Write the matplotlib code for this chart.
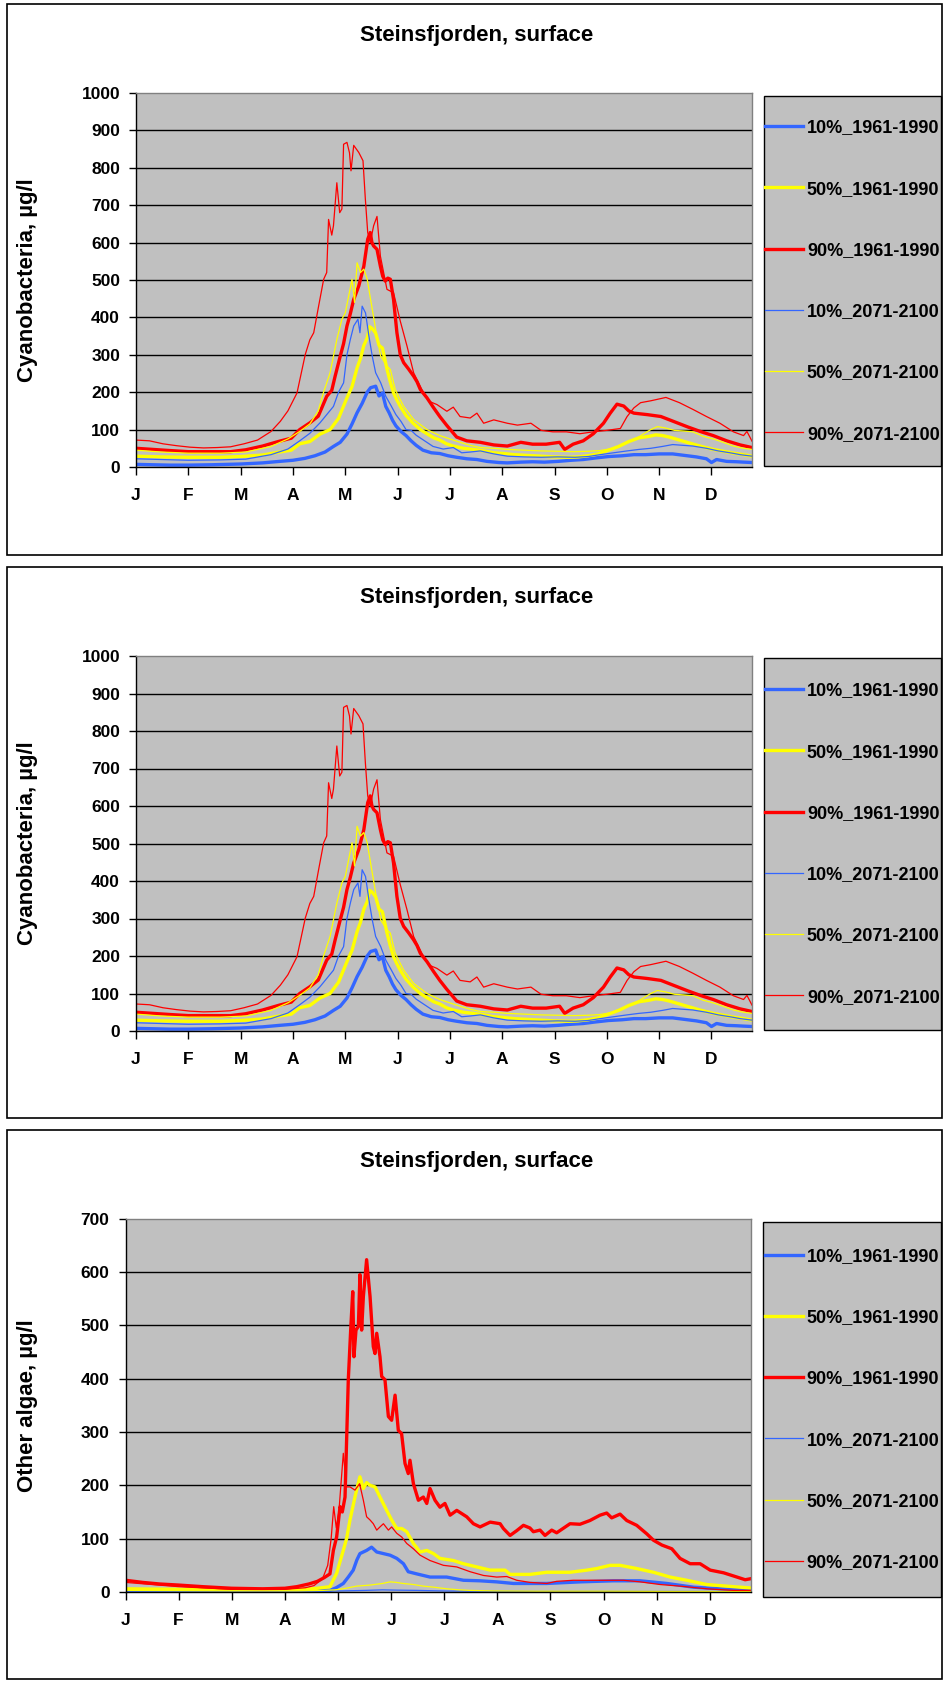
import numpy as np
import matplotlib
matplotlib.use("Agg")
import matplotlib.pyplot as plt
from matplotlib.patches import Rectangle

plt.rcParams['font.family'] = ['Liberation Sans', 'DejaVu Sans']
plt.rcParams['font.weight'] = 'bold'

# ── data (day of year, concentration) ─────────────────────────────────────
MONTHS = ['J', 'F', 'M', 'A', 'M', 'J', 'J', 'A', 'S', 'O', 'N', 'D']
LABELS = ['10%_1961-1990', '50%_1961-1990', '90%_1961-1990',
          '10%_2071-2100', '50%_2071-2100', '90%_2071-2100']

# Cyanobacteria (panels 1 and 2 show the same data)
CY_B10_HIST_D = [0, 10, 20, 31, 45, 62, 75, 85, 93, 100, 106, 112, 117, 121, 125, 128, 131, 134, 137, 139,
                 142, 144, 146, 148, 150, 152, 154, 157, 160, 163, 166, 170, 175, 180, 185, 190, 196, 202, 208, 215,
                 220, 228, 235, 242, 250, 258, 265, 272, 280, 288, 295, 302, 310, 318, 325, 332, 338, 341, 344, 350,
                 356, 360, 365]
CY_B10_HIST = [7, 6, 5, 5, 6, 8, 11, 15, 18, 23, 30, 40, 55, 66, 88, 115, 145, 170, 200, 212,
               216, 190, 198, 162, 145, 125, 110, 95, 84, 70, 58, 45, 38, 36, 30, 26, 22, 20, 15, 12,
               11, 13, 14, 13, 15, 18, 20, 24, 28, 30, 33, 33, 35, 35, 31, 27, 22, 12, 20, 15,
               14, 13, 12]

CY_Y50_HIST_D = [0, 15, 31, 50, 62, 75, 85, 92, 97, 103, 109, 115, 120, 125, 128, 131, 133, 135, 137, 138.5,
                 140, 142, 144, 146, 148.7, 150.5, 152.6, 154.5, 156.6, 160, 164, 168.5, 172, 176.4, 180, 184, 188,
                 194, 200, 206, 212, 218, 224, 232, 240, 248, 256, 262, 268, 274, 280, 286, 292, 298, 304, 308,
                 312, 316, 322, 328, 335, 342, 348, 354, 360, 365]
CY_Y50_HIST = [29, 27, 26, 26, 28, 32, 40, 45, 62, 68, 88, 100, 130, 185, 215, 265, 290, 325, 345, 375,
               370, 358, 325, 318, 262, 230, 198, 180, 162, 138, 118, 100, 90, 78, 72, 62, 56,
               50, 47, 43, 38, 36, 33, 31, 29, 27, 26, 27, 30, 35, 45, 55, 68, 78, 82, 86,
               84, 80, 72, 64, 55, 47, 42, 37, 33, 29]

CY_R90_HIST_D = [0, 10, 20, 31, 45, 56, 65, 75, 85, 92, 97, 103, 108, 113, 116, 118, 121, 123, 125, 127,
                 129, 132, 135, 137.3, 138.8, 139.8, 140.8, 142.8, 144.8, 146.2, 147.7, 149.2, 150.7, 152.6,
                 154.6, 156.6, 158.6, 161.5, 164.5, 166.5, 168.5, 172.4, 176.4, 180, 184, 190, 196, 204, 212,
                 220, 228, 235, 243, 251, 254, 259, 265, 271, 277, 281, 285, 289, 292, 295, 303, 311, 319,
                 327, 335, 342, 350, 358, 365]
CY_R90_HIST = [50, 47, 44, 41, 41, 41, 46, 56, 69, 77, 100, 118, 136, 189, 205, 243, 296, 330, 377, 410,
               448, 484, 537, 609, 627, 600, 591, 582, 537, 510, 497, 505, 502, 448,
               359, 300, 279, 262, 243, 228, 207, 185, 158, 135, 112, 80, 70, 66, 59,
               56, 66, 61, 61, 66, 47, 61, 70, 89, 117, 144, 168, 163, 150, 144, 140, 135, 121,
               107, 94, 84, 70, 59, 52]

CY_B10_FUT_D = [0, 15, 31, 50, 65, 80, 90, 97, 103, 109, 113, 117, 120, 123, 125, 127, 129, 131.5, 132.7, 134,
                136, 138, 140, 142, 145, 148, 151, 154, 157, 160, 163, 166, 170, 176, 182, 188, 193, 198, 204, 212,
                220, 230, 240, 250, 260, 268, 275, 283, 291, 298, 305, 312, 318, 324, 330, 338, 345, 352, 358, 365]
CY_B10_FUT = [22, 20, 18, 19, 21, 33, 48, 70, 90, 118, 140, 162, 200, 225, 300, 341, 377, 395, 359, 430,
              412, 350, 296, 252, 225, 189, 165, 140, 122, 100, 98, 85, 73, 55, 48, 52, 38, 40, 43, 35,
              29, 27, 26, 27, 26, 28, 33, 38, 43, 47, 50, 55, 60, 58, 56, 50, 43, 38, 33, 29]

CY_Y50_FUT_D = [0, 15, 31, 50, 65, 80, 90, 97, 103, 108, 111, 115, 119, 122, 124, 126, 128, 129.5, 131, 133,
                135, 137, 139, 141, 143, 145, 148.7, 150.7, 153.6, 158.6, 164.5, 172.4, 180, 186, 192, 198, 204,
                212, 220, 230, 240, 250, 259, 268, 275, 283, 291, 297, 302, 305, 309, 314, 319, 325, 330, 336,
                342, 348, 354, 360, 365]
CY_Y50_FUT = [45, 40, 37, 37, 40, 55, 75, 95, 115, 150, 198, 252, 341, 395, 412, 457, 502, 440, 546, 520,
              529, 502, 448, 395, 341, 296, 270, 261, 207, 162, 127, 100, 84, 75, 66, 58, 52,
              50, 47, 45, 43, 42, 41, 42, 44, 50, 66, 78, 92, 100, 108, 104, 98, 96, 94, 82,
              75, 66, 56, 50, 47]

CY_R90_FUT_D = [0, 8, 16, 24, 32, 40, 48, 56, 64, 72, 80, 85.5, 90, 95.4, 100.3, 103, 105.3, 108.2, 111.2, 113,
                114.1, 116, 117, 119, 120.7, 122, 123, 125, 126.5, 127.4, 129, 132, 134.5, 135.9, 137.3, 138.8,
                140.8, 142.8, 144.8, 148.7, 152.6, 156.6, 160.6, 164.5, 170.4, 174, 178.3, 184.2, 188, 192,
                198, 202, 206, 212, 220, 226, 234, 240, 247, 255, 263, 271, 279, 287, 291, 295, 299, 305, 314,
                322, 330, 338, 346, 354, 360, 362, 365]
CY_R90_FUT = [72, 70, 62, 57, 53, 51, 52, 54, 62, 72, 95, 122, 150, 198, 301, 340, 359, 430, 502, 520,
              662, 620, 645, 760, 680, 690, 863, 868, 840, 792, 860, 841, 819, 716, 627, 600,
              645, 670, 564, 475, 466, 390, 323, 252, 198, 175, 167, 149, 160, 135,
              131, 144, 117, 126, 117, 112, 117, 98, 94, 94, 89, 94, 98, 103, 135, 158, 172, 177, 186,
              172, 154, 135, 117, 94, 84, 95, 69]

# Other algae (panel 3)
OA_B10_HIST_D = [0, 31, 62, 93, 110, 119.3, 123, 127.1, 130, 132.9, 135, 136.8, 140.7, 143.6, 146.6, 150.5,
                 154.4, 158.3, 162.2, 165, 169.9, 177.7, 187.4, 197.2, 206.9, 216.6, 226.4, 236, 245.8, 265.2,
                 284.7, 300.3, 315.9, 331.5, 347, 365]
OA_B10_HIST = [2, 2, 2, 2, 2, 3, 8, 16, 28, 41, 60, 72, 78, 84, 75, 72,
               69, 63, 53, 38, 34, 28, 28, 22, 21, 19, 16, 16, 16, 19,
               21, 21, 16, 9, 6, 3]

OA_Y50_HIST_D = [0, 31, 62, 93, 105, 112, 119.3, 121, 123.2, 125, 127.1, 129, 131, 133.9, 135.5, 136.8, 138.8,
                 140.7, 142.7, 145.6, 148.5, 152.4, 155.3, 158.3, 161.2, 164.1, 168, 171.9, 175.8, 179.7, 183.5,
                 191.3, 197.2, 205, 212.8, 221.5, 224.4, 236, 245.8, 259.4, 269.2, 275, 282.8, 288.6, 298.3,
                 308.1, 317.8, 327.5, 339.2, 350.8, 365]
OA_Y50_HIST = [6, 5, 4, 4, 5, 7, 10, 21, 35, 55, 78, 100, 135, 178, 200, 216, 194,
               205, 200, 197, 178, 153, 135, 119, 119, 113, 91, 75, 78, 72, 63,
               59, 53, 47, 41, 41, 33, 33, 37, 37, 41, 44, 50, 50, 44,
               37, 28, 22, 14, 11, 7.5]

OA_R90_HIST_D = [0, 10, 20, 31, 45, 62, 80, 93, 100, 107, 112, 116, 119.3, 121.3, 123.2, 125.2, 126.5, 128.1,
                 130, 131.4, 132.6, 133.3, 134.5, 135.9, 136.8, 137.8, 138.8, 140.7, 142.7, 144.6, 145.6, 146.6,
                 148.5, 149.5, 151.4, 153.4, 155.3, 157.3, 159.2, 161.1, 163.1, 165, 166, 168, 170.9, 173.8,
                 175.8, 177.7, 180.6, 183.5, 186.4, 189.4, 193.3, 196.2, 199.1, 203, 206.9, 212.8, 218.6, 220.5,
                 224.4, 228.3, 232.2, 236, 238, 241.9, 244.8, 248.7, 251.6, 259.4, 265.2, 271, 276.9, 280.8,
                 283.7, 288.6, 292.5, 298.3, 304.2, 308.1, 313, 318.8, 323.6, 329.5, 335.3, 341.2, 349, 356.8,
                 361.6, 365]
OA_R90_HIST = [22, 18, 15, 13, 10, 7, 6, 7, 10, 15, 20, 27, 34, 78, 103, 160, 150, 178,
               397, 491, 563, 441, 491, 498, 595, 491, 554, 623, 554, 460, 447, 485,
               441, 404, 398, 329, 322, 369, 303, 297, 241, 222, 247, 203, 172, 178,
               166, 194, 172, 159, 166, 144, 153, 147, 141, 128, 122, 131, 128, 119,
               106, 115, 125, 120, 113, 116, 106, 116, 111, 128, 127, 134, 144, 148,
               139, 146, 134, 125, 109, 97, 88, 81, 63, 53, 53, 41, 36, 28,
               23, 25]

OA_B10_FUT_D = [0, 62, 110, 125, 140, 150, 158, 170, 185, 200, 240, 290, 330, 365]
OA_B10_FUT = [1, 1, 1, 2, 3, 4, 3.5, 3, 2, 1.5, 1, 1, 1, 1]

OA_Y50_FUT_D = [0, 62, 100, 115, 122, 127, 134.8, 142.7, 150, 154.4, 158, 162, 168, 173.8, 180, 187.4, 195,
                201, 215, 240, 280, 320, 365]
OA_Y50_FUT = [3, 2, 2, 3, 4, 6, 11, 13, 16, 19, 18, 16, 14, 11, 9, 6, 4,
              3, 2, 1.5, 1.5, 1, 1]

OA_R90_FUT_D = [0, 31, 62, 93, 105, 110, 115, 118, 120, 121.5, 123, 124.5, 127.1, 129, 131, 133.9, 136.6,
                138.8, 140.7, 142.7, 144.6, 146.6, 148.5, 150.5, 153.4, 155.3, 158.3, 161.2, 164.1, 168,
                171.9, 177.7, 185.5, 193.3, 201.1, 208.9, 216.6, 222.5, 228.3, 236, 245.8, 251.6, 261.3,
                275, 290.6, 300.3, 312, 323.6, 339.2, 354.8, 365]
OA_R90_FUT = [18, 10, 5, 5, 8, 12, 25, 50, 100, 160, 120, 150, 260, 197, 197, 191, 203,
              172, 141, 135, 128, 116, 122, 128, 116, 122, 110, 103, 91, 81,
              69, 59, 50, 47, 38, 31, 28, 29, 22, 18, 16, 20, 22,
              22, 22, 19, 14, 11, 6, 3, 3]

CYANO = [(CY_B10_HIST_D, CY_B10_HIST), (CY_Y50_HIST_D, CY_Y50_HIST), (CY_R90_HIST_D, CY_R90_HIST),
         (CY_B10_FUT_D, CY_B10_FUT), (CY_Y50_FUT_D, CY_Y50_FUT), (CY_R90_FUT_D, CY_R90_FUT)]
ALGAE = [(OA_B10_HIST_D, OA_B10_HIST), (OA_Y50_HIST_D, OA_Y50_HIST), (OA_R90_HIST_D, OA_R90_HIST),
         (OA_B10_FUT_D, OA_B10_FUT), (OA_Y50_FUT_D, OA_Y50_FUT), (OA_R90_FUT_D, OA_R90_FUT)]

# ── styling ───────────────────────────────────────────────────────────────
COLOURS = ['#3366FF', '#FFFF00', '#FF0000'] * 2
WIDTHS = [2.4, 2.4, 2.4, 0.9, 0.9, 0.9]
BG = '#C0C0C0'

W, H = 946, 1682
fig = plt.figure(figsize=(W / 100, H / 100), dpi=100)


def fbox(x0, y0, x1, y1):
    """pixel box (top-left origin) -> figure fraction [l, b, w, h]"""
    return [x0 / W, 1 - y1 / H, (x1 - x0) / W, (y1 - y0) / H]


def panel(border, title_y, plot, legend_box, ylabel, ymax, series):
    bx0, by0, bx1, by1 = border
    fig.patches.append(Rectangle((bx0 / W, 1 - by1 / H), (bx1 - bx0) / W, (by1 - by0) / H,
                                 transform=fig.transFigure, fill=False,
                                 edgecolor='black', lw=1.2, zorder=-2))
    fig.text(477 / W, 1 - title_y / H, 'Steinsfjorden, surface', ha='center', va='center',
             fontsize=16, fontweight='bold')

    ax = fig.add_axes(fbox(*plot))
    ax.set_facecolor(BG)
    lines = []
    for (d, v), c, lw in zip(series, COLOURS, WIDTHS):
        ln, = ax.plot(d, v, color=c, lw=lw, solid_joinstyle='round')
        lines.append(ln)
    ax.set_xlim(0, 365)
    ax.set_ylim(0, ymax)
    ax.set_yticks(np.arange(0, ymax + 1, 100))
    ax.set_xticks(np.arange(0, 365, 31))
    ax.set_xticklabels(MONTHS)
    ax.yaxis.grid(True, color='black', lw=1)
    ax.set_axisbelow(True)
    grid = ax.get_ygridlines()
    grid[0].set_visible(False)
    grid[-1].set_visible(False)
    ax.tick_params(axis='y', direction='out', length=5, width=1, pad=6.5, labelsize=12.5)
    ax.tick_params(axis='x', direction='out', length=6, width=1, pad=9, labelsize=12.5)
    for lab in ax.get_xticklabels() + ax.get_yticklabels():
        lab.set_fontweight('bold')
    for s in ['left', 'bottom']:
        ax.spines[s].set_color('black')
        ax.spines[s].set_linewidth(1)
    for s in ['top', 'right']:
        ax.spines[s].set_color('#808080')
        ax.spines[s].set_linewidth(1)

    px0, py0, px1, py1 = plot
    fig.text(28 / W, 1 - (py0 + py1) / 2 / H, ylabel, rotation=90, ha='center', va='center',
             fontsize=16, fontweight='bold')

    lx0, ly0, lx1, ly1 = legend_box
    fig.patches.append(Rectangle((lx0 / W, 1 - ly1 / H), (lx1 - lx0) / W, (ly1 - ly0) / H,
                                 transform=fig.transFigure, facecolor=BG,
                                 edgecolor='black', lw=1, zorder=-1))
    ax.legend(lines, LABELS, loc='center',
              bbox_to_anchor=((lx0 + lx1) / 2 / W, 1 - (ly0 + ly1) / 2 / H),
              bbox_transform=fig.transFigure, frameon=False,
              labelspacing=2.45, handlelength=2.1, handletextpad=0.2,
              prop={'size': 13, 'weight': 'bold'})
    return ax


panel((7, 4, 942, 555), 36, (136, 93, 752, 467), (764, 96, 941, 466),
      'Cyanobacteria, µg/l', 1000, CYANO)
panel((7, 567, 942, 1118), 598, (136, 656, 752, 1031), (764, 658, 941, 1030),
      'Cyanobacteria, µg/l', 1000, CYANO)
panel((7, 1130, 942, 1679), 1161, (125.5, 1218.6, 751, 1592), (763, 1222, 941, 1597),
      'Other algae, µg/l', 700, ALGAE)

fig.savefig('out.png', dpi=100)
